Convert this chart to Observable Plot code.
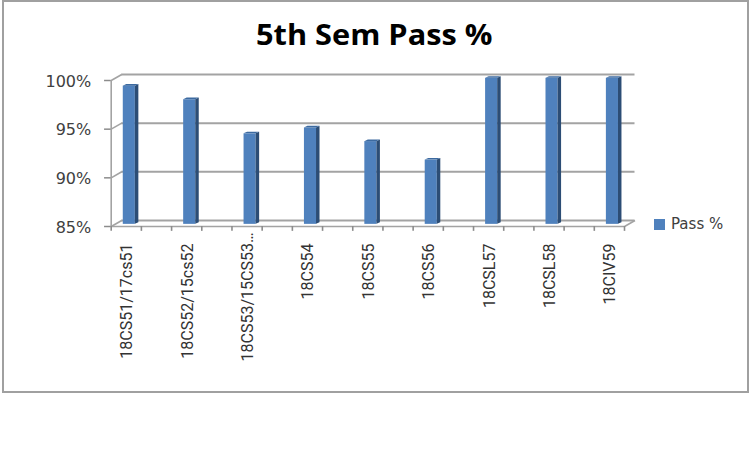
<!DOCTYPE html>
<html><head><meta charset="utf-8">
<script src="https://cdn.jsdelivr.net/npm/d3@7"></script>
<script src="https://cdn.jsdelivr.net/npm/@observablehq/plot@0.6"></script>
<style>
html,body{margin:0;padding:0;background:#fff;width:750px;height:450px;overflow:hidden}
#wrap{position:relative;width:750px;height:450px}
#frame{position:absolute;left:2px;top:0;width:743px;height:389px;border:2px solid #a0a0a0;background:#fff}
#title{position:absolute;left:256px;top:14px;font:bold 29px "Open Sans";color:#000;white-space:nowrap;transform-origin:left top;transform:scaleX(1.06)}
#legend{position:absolute;left:654px;top:215px;font:15px "DejaVu Sans";color:#404040;display:flex;align-items:center;gap:6px}
#legend i{display:block;width:11px;height:11px;background:#4f81bd}
#chart{position:absolute;left:0;top:0}
</style></head><body>
<div id="wrap"><div id="frame"></div><div id="chart"></div>
<div id="title">5th Sem Pass %</div>
<div id="legend"><i></i><span>Pass %</span></div></div>
<script>
const categories=["18CS51/17cs51","18CS52/15cs52","18CS53/15CS53…","18CS54","18CS55","18CS56","18CSL57","18CSL58","18CIV59"];
const passValues=[99.2,97.8,94.3,94.9,93.5,91.6,100,100,100];
const yTicks=[85,90,95,100];
const xTicks=d3.range(0,18).map(i=>i/2);

const depthX=.174, depthY=.62;
const barOffset=.2, barW=.2, sideX=.058, sideY=.17, barLift=.22;

const rows=categories.map((c,i)=>({c,i,x0:i+barOffset,x1:i+barOffset+barW,b:85+barLift,t:passValues[i]+barLift,
  ly:c.endsWith("…")?84.4:83.25}));
const side=rows.flatMap(d=>[{i:d.i,x:d.x1,y1:d.b,y2:d.t},{i:d.i,x:d.x1+sideX,y1:d.b+sideY,y2:d.t+sideY}]);
const top_=rows.flatMap(d=>[{i:d.i,x1:d.x0,x2:d.x1,y:d.t},{i:d.i,x1:d.x0+sideX,x2:d.x1+sideX,y:d.t+sideY}]);
const xEnd=8.5, grey="#a3a3a3", tickGrey="#8c8c8c";

const plot=Plot.plot({
  width:750,height:450,marginLeft:110.7,marginRight:126,marginTop:80,marginBottom:224,
  style:{background:"transparent"},
  x:{type:"linear",domain:[0,xEnd],axis:null},
  y:{domain:[85,100],axis:null},
  marks:[
    Plot.ruleY(yTicks,{x1:depthX,x2:xEnd+depthX,y:d=>d+depthY,stroke:grey,strokeWidth:2}),
    Plot.link(yTicks,{x1:()=>0,x2:()=>depthX,y1:d=>d,y2:d=>d+depthY,stroke:grey,strokeWidth:1.6}),
    Plot.link([85],{x1:()=>xEnd,x2:()=>xEnd+depthX,y1:d=>d,y2:d=>d+depthY,stroke:grey,strokeWidth:1.6}),
    Plot.ruleX([0],{y1:85,y2:100,stroke:grey,strokeWidth:1.6}),
    Plot.ruleY([85],{x1:0,x2:xEnd,stroke:grey,strokeWidth:1.6}),
    Plot.ruleX(xTicks,{y1:85,y2:84.5,stroke:tickGrey,strokeWidth:1.6}),
    Plot.ruleY(yTicks,{x1:-.11,x2:0,stroke:tickGrey,strokeWidth:1.5}),
    Plot.rectY(rows,{x1:"x0",x2:"x1",y1:"b",y2:"t",fill:"#4f81bd"}),
    Plot.area(side,{x1:"x",x2:"x",y1:"y1",y2:"y2",z:"i",fill:"#2c4d75"}),
    Plot.areaX(top_,{x1:"x1",x2:"x2",y:"y",z:"i",fill:"#3c6aa0"}),
    Plot.text(yTicks,{x:0,y:d=>d,text:d=>d+"%",textAnchor:"end",dx:-20,dy:1,fontSize:16,fontFamily:"DejaVu Sans",fill:"#404040"}),
    Plot.text(rows,{x:d=>d.i+.265,y:"ly",text:"c",rotate:-90,textAnchor:"end",fontSize:16,fontFamily:"Roboto",fill:"#333"})
  ]
});
document.getElementById("chart").append(plot);
</script></body></html>
